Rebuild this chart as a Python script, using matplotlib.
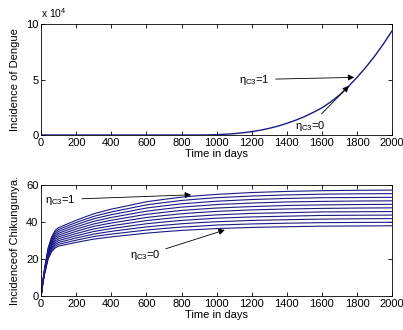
import numpy as np
import matplotlib
matplotlib.use("Agg")
import matplotlib.pyplot as plt

plt.rcParams['font.family'] = ['Liberation Sans', 'DejaVu Sans']
plt.rcParams['mathtext.fontset'] = 'custom'
plt.rcParams['mathtext.rm'] = 'Liberation Sans'
plt.rcParams['mathtext.it'] = 'Liberation Sans'

# dengue incidence (units of 1e4), all eta curves overlap
dengue_t = [0, 200, 400, 600, 800, 900, 950, 1000, 1050, 1100, 1150, 1200,
            1250, 1300, 1350, 1400, 1450, 1500, 1550, 1600, 1650, 1700,
            1750, 1800, 1850, 1900, 1950, 2000]
dengue_e4 = [0, 0, 0, 0, 0, 0, 0.005, 0.03, 0.07, 0.12, 0.2, 0.3,
             0.43, 0.6, 0.8, 1.05, 1.33, 1.65, 2.03, 2.45, 2.98, 3.6,
             4.35, 5.2, 6.1, 7.1, 8.2, 9.4]

# chikungunya incidence, rows = time points, columns = eta_C3 = 0 .. 1
chik_t = [0, 10, 20, 40, 60, 80, 100, 150, 200, 300, 400, 500, 600, 700,
          800, 900, 1000, 1200, 1400, 1600, 1800, 2000]
chik_by_time = [
    [0, 0, 0, 0, 0, 0, 0, 0, 0, 0, 0],
    [7, 7.1, 7.2, 7.3, 7.4, 7.5, 7.6, 7.7, 7.8, 7.9, 8],
    [12, 12.3, 12.6, 12.9, 13.2, 13.5, 13.8, 14.1, 14.4, 14.7, 15],
    [20, 20.6, 21.2, 21.8, 22.4, 23, 23.6, 24.2, 24.8, 25.4, 26],
    [24, 24.8, 25.6, 26.4, 27.2, 28, 28.8, 29.6, 30.4, 31.2, 32],
    [26, 26.95, 27.9, 28.85, 29.8, 30.75, 31.7, 32.65, 33.6, 34.55, 35.5],
    [27, 28, 29, 30, 31, 32, 33, 34, 35, 36, 37],
    [28, 29.1, 30.2, 31.3, 32.4, 33.5, 34.6, 35.7, 36.8, 37.9, 39],
    [29, 30.2, 31.4, 32.6, 33.8, 35, 36.2, 37.4, 38.6, 39.8, 41],
    [30.8, 32.2, 33.5, 34.9, 36.3, 37.7, 39.0, 40.4, 41.8, 43.1, 44.5],
    [32, 33.5, 35, 36.5, 38, 39.5, 41, 42.5, 44, 45.5, 47],
    [33, 34.6, 36.2, 37.8, 39.4, 41, 42.6, 44.2, 45.8, 47.4, 49],
    [34, 35.7, 37.4, 39.1, 40.8, 42.5, 44.2, 45.9, 47.6, 49.3, 51],
    [34.8, 36.55, 38.3, 40.05, 41.8, 43.55, 45.3, 47.05, 48.8, 50.55, 52.3],
    [35.5, 37.3, 39.1, 40.9, 42.7, 44.5, 46.3, 48.1, 49.9, 51.7, 53.5],
    [36.0, 37.8, 39.7, 41.5, 43.3, 45.2, 47.0, 48.8, 50.6, 52.5, 54.3],
    [36.5, 38.4, 40.2, 42.1, 43.9, 45.8, 47.6, 49.5, 51.3, 53.2, 55],
    [37.1, 39.0, 40.9, 42.8, 44.7, 46.6, 48.4, 50.3, 52.2, 54.1, 56],
    [37.5, 39.4, 41.3, 43.2, 45.1, 47.1, 49.0, 50.9, 52.8, 54.7, 56.6],
    [37.8, 39.7, 41.6, 43.6, 45.5, 47.4, 49.3, 51.2, 53.2, 55.1, 57],
    [37.9, 39.8, 41.8, 43.7, 45.6, 47.6, 49.5, 51.4, 53.3, 55.3, 57.2],
    [38, 39.9, 41.9, 43.8, 45.7, 47.7, 49.6, 51.5, 53.4, 55.4, 57.3],
]

line_col = '#1a1a86'
fs = 8

fig = plt.figure(figsize=(4.03, 3.30), dpi=100)
ax1 = fig.add_axes([0.102, 0.591, 0.871, 0.336])
ax2 = fig.add_axes([0.102, 0.103, 0.871, 0.336])

for ax in (ax1, ax2):
    ax.set_xlim(0, 2000)
    ax.set_xticks(np.arange(0, 2001, 200))
    ax.tick_params(direction='in', top=True, right=True, length=3,
                   width=0.6, labelsize=fs, pad=2)
    for s in ax.spines.values():
        s.set_linewidth(0.6)
    ax.set_xlabel('Time in days', fontsize=fs, labelpad=1)

# top panel
ax1.plot(dengue_t, dengue_e4, color=line_col, lw=1.0)
ax1.set_ylim(0, 10)
ax1.set_yticks([0, 5, 10])
ax1.set_ylabel('Incidence of Dengue', fontsize=fs, labelpad=4)
ax1.text(0.0, 1.04, r'x 10$^4$', transform=ax1.transAxes, fontsize=fs - 0.5,
         ha='left', va='bottom')
arrow = dict(arrowstyle='-|>', color='k', lw=0.6, mutation_scale=9)
ax1.annotate(r'$\eta_{C3}$=1', xy=(1800, 5.2), xytext=(1130, 5.0),
             fontsize=fs, va='center', ha='left', arrowprops=arrow)
ax1.annotate(r'$\eta_{C3}$=0', xy=(1765, 4.6), xytext=(1445, 0.85),
             fontsize=fs, va='center', ha='left', arrowprops=arrow)

# bottom panel
chik = np.array(chik_by_time).T
for row in chik:
    ax2.plot(chik_t, row, color=line_col, lw=0.8)
ax2.set_ylim(0, 60)
ax2.set_yticks([0, 20, 40, 60])
ax2.set_ylabel('Incidenceof Chikungunya.', fontsize=fs, labelpad=4)
ax2.annotate(r'$\eta_{C3}$=1', xy=(870, 54.8), xytext=(25, 52.2),
             fontsize=fs, va='center', ha='left', arrowprops=arrow)
ax2.annotate(r'$\eta_{C3}$=0', xy=(1062, 36.2), xytext=(505, 22),
             fontsize=fs, va='center', ha='left', arrowprops=arrow)

fig.savefig('out.png', dpi=100)
